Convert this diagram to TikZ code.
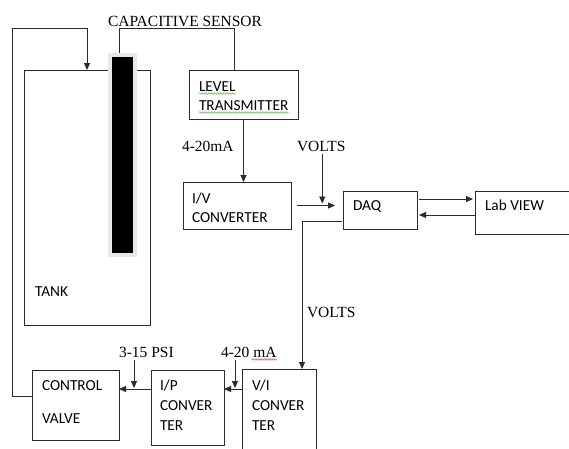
\documentclass[tikz,border=0pt]{standalone}
\usepackage{fontspec}
\setmainfont{Liberation Serif}
\newfontfamily\boxfont{Carlito}
\usetikzlibrary{arrows.meta,positioning,calc,decorations.pathmorphing}
\definecolor{wire}{HTML}{2B2B2B}
\definecolor{shade}{HTML}{E8E8E8}
\definecolor{spellg}{HTML}{5DB84A}
\definecolor{spellr}{HTML}{E03C3C}

\begin{document}
\begin{tikzpicture}[x=1pt, y=-1pt,
  every node/.style={inner sep=0pt, outer sep=0pt},
  blk/.style={draw=wire, line width=0.9pt, fill=white, anchor=north west},
  lbl/.style={font=\boxfont\fontsize{15.3}{18}\selectfont, anchor=base west},
  sig/.style={font=\fontsize{15.5}{18}\selectfont, anchor=base west},
  ln/.style={draw=wire, line width=0.9pt},
  arr/.style={ln, -{Triangle[length=7pt,width=6pt]}},
  squig/.style={decorate, decoration={snake, amplitude=0.8pt, segment length=3pt}, line width=0.6pt}
]
  \path[use as bounding box, clip] (0,0) rectangle (569,448);

  % Blocks
  \node[blk, minimum width=126pt, minimum height=255pt] (tank) at (24,70) {};
  \node[blk, minimum width=109pt, minimum height=49pt] (lt) at (189,70) {};
  \node[blk, minimum width=108pt, minimum height=47pt] (iv) at (183,182) {};
  \node[blk, minimum width=74pt, minimum height=38pt] (daq) at (343,191) {};
  \node[blk, minimum width=100pt, minimum height=43pt] (lv) at (475,191) {};
  \node[blk, minimum width=74pt, minimum height=90pt] (vi) at (242,369) {};
  \node[blk, minimum width=73pt, minimum height=75pt] (ip) at (151,370) {};
  \node[blk, minimum width=87pt, minimum height=70pt] (cv) at (32,370) {};

  % Control loop back into the tank
  \coordinate (loop) at (12,28);
  \draw[arr] ([yshift=-26pt]cv.north west) -| (loop) -| (tank.north);

  % Sensor wire up and over to the transmitter
  \coordinate (wtop) at (0,28);
  \node[draw=shade, line width=3.5pt, fill=black, anchor=north west,
        minimum width=25pt, minimum height=200pt] (sensor) at (110,55) {};
  \draw[ln] ([xshift=-3.5pt,yshift=2pt]sensor.north) |- ([xshift=-9.5pt]lt.north |- wtop) -- ([xshift=-9.5pt]lt.north);

  % Texts in the blocks
  \node[lbl] (tanktxt) at (35,296) {TANK};
  \node[lbl] (ltA) at (199,91) {LEVEL};
  \node[lbl] (ltB) at (199,110) {TRANSMITTER};
  \node[lbl] (ivA) at (192,203) {I/V};
  \node[lbl] (ivB) at (192,222) {CONVERTER};
  \node[lbl] (daqtxt) at (353,210) {DAQ};
  \node[lbl] (lvtxt) at (485,210) {Lab VIEW};
  \node[lbl] (viA) at (252,390) {V/I};
  \node[lbl] (viB) at (252,410) {CONVER};
  \node[lbl] (viC) at (252,430) {TER};
  \node[lbl] (ipA) at (160,390) {I/P};
  \node[lbl] (ipB) at (160,410) {CONVER};
  \node[lbl] (ipC) at (160,430) {TER};
  \node[lbl] (cvA) at (42,390) {CONTROL};
  \node[lbl] (cvB) at (42,423) {VALVE};

  % Signal labels
  \node[sig] (cap) at (108,26) {CAPACITIVE SENSOR};
  \node[sig] (ma1) at (182,151) {4-20mA};
  \node[sig] (volts1) at (297,151) {VOLTS};
  \node[sig] (volts2) at (307,317) {VOLTS};
  \node[sig] (psi) at (119,357) {3-15 PSI};
  \node[sig] (ma2) at (221,357) {4-20 mA};

  % spell-check marks
  \draw[squig, spellg] ([yshift=-2.5pt]ltA.base west) -- ([yshift=-2.5pt]ltA.base east);
  \draw[squig, spellg] ([yshift=-2.5pt]ltB.base west) -- ([yshift=-2.5pt]ltB.base east);
  \draw[squig, spellr] ([xshift=-25pt,yshift=-2.5pt]ma2.base east) -- ([yshift=-2.5pt]ma2.base east);

  % Signal path
  \draw[arr] (lt.south) -- (lt.south |- iv.north);
  \draw[arr] ([xshift=6pt]iv.east) -- ([xshift=-8pt]daq.west |- iv.east);
  \draw[arr, shorten >=2pt] ([xshift=1pt,yshift=-3pt]volts1.south) -- ([xshift=1pt]volts1.south |- iv.east);
  \draw[arr, shorten >=2pt] ([xshift=2pt,yshift=-8pt]daq.north east) -- ([yshift=-8pt]daq.north east -| lv.west);
  \draw[arr] ([yshift=-24pt]lv.north west) -- ([xshift=2pt,yshift=-24pt]lv.north west -| daq.east);
  \draw[arr] ([xshift=-1pt,yshift=-30pt]daq.north west) -| ([xshift=23pt]vi.north);

  \coordinate (vip) at ([yshift=-20pt]vi.north west);
  \draw[arr] (vip) -- (vip -| ip.east);
  \draw[arr, shorten >=1pt] ([xshift=14pt,yshift=-3pt]ma2.south west) -- ([xshift=14pt]ma2.south west |- vip);

  \coordinate (pcv) at ([yshift=-19pt]ip.north west);
  \draw[arr] (pcv) -- (pcv -| cv.east);
  \draw[arr, shorten >=1pt] ([xshift=15pt,yshift=-3pt]psi.south west) -- ([xshift=15pt]psi.south west |- pcv);
\end{tikzpicture}
\end{document}
